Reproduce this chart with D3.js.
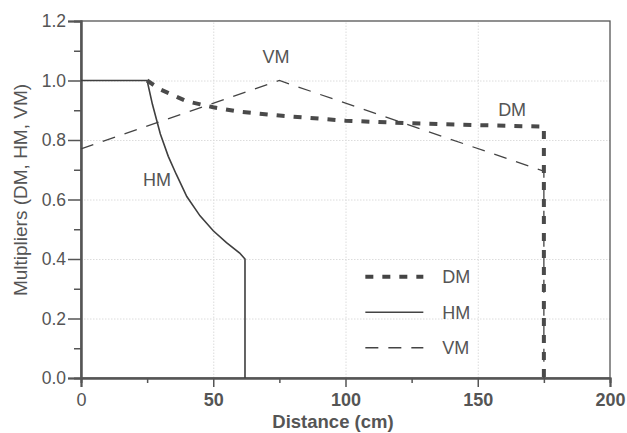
<!DOCTYPE html>
<html lang="en">
<head>
<meta charset="UTF-8">
<title>Multipliers</title>
<script src="https://d3js.org/d3.v7.min.js"></script>
<style>
    body { margin: 0; background: #fff; }
    text { font-family: "Liberation Sans", Arial, sans-serif; fill: #555; }
</style>
</head>
<body>
<div id="chart"></div>
<script>
    // data
    const hmDist = [0, 25, 27, 30, 33, 36, 40, 45, 50, 55, 60, 62, 62];
    const hmVal = [1.0, 1.0, 0.92, 0.82, 0.745, 0.685, 0.61, 0.545, 0.495, 0.455, 0.42, 0.40, 0.0];
    const dmDist = [25, 30, 35, 40, 50, 60, 75, 100, 125, 150, 175, 175];
    const dmVal = [1.0, 0.97, 0.95, 0.93, 0.91, 0.895, 0.882, 0.865, 0.856, 0.85, 0.845, 0.0];
    const vmDist = [0, 75, 175, 175];
    const vmVal = [0.77, 1.0, 0.695, 0.0];
    const xTicks = [0, 50, 100, 150, 200];
    const yTicks = [0.0, 0.2, 0.4, 0.6, 0.8, 1.0, 1.2];

    const W = 627, H = 433;
    const margin = { top: 21, right: 17, bottom: 55, left: 81 },
        width = W - margin.left - margin.right,
        height = H - margin.top - margin.bottom;

    const svg = d3.select("#chart").append("svg")
        .attr("width", W).attr("height", H)
        .append("g")
        .attr("transform", `translate(${margin.left},${margin.top})`);

    const x = d3.scaleLinear().domain([0, 200]).range([0, width]);
    const y = d3.scaleLinear().domain([0, 1.2]).range([height, 0]);

    // gridlines
    const gx = svg.append("g")
        .attr("transform", `translate(0,${height})`)
        .call(d3.axisBottom(x).tickValues([50, 100, 150]).tickSize(-height).tickFormat(""));
    const gy = svg.append("g")
        .call(d3.axisLeft(y).tickValues([0.2, 0.4, 0.6, 0.8, 1.0]).tickSize(-width).tickFormat(""));
    [gx, gy].forEach(g => {
        g.select(".domain").remove();
        g.selectAll("line").attr("stroke", "#dcdcdc").attr("stroke-dasharray", "1.5 1.5");
    });

    // frame
    svg.append("rect").attr("width", width).attr("height", height)
        .attr("fill", "none").attr("stroke", "#555").attr("stroke-width", 1.3);

    // axes
    const xAxis = svg.append("g")
        .attr("transform", `translate(0,${height})`)
        .call(d3.axisBottom(x).tickValues(xTicks).tickSize(9).tickPadding(6).tickFormat(d3.format("d")));
    const xMinor = svg.append("g")
        .attr("transform", `translate(0,${height})`)
        .call(d3.axisBottom(x).tickValues([25, 75, 125, 175]).tickSize(5).tickFormat(""));
    const yAxis = svg.append("g")
        .call(d3.axisLeft(y).tickValues(yTicks).tickSize(13).tickPadding(2).tickFormat(d3.format(".1f")));
    const yMinor = svg.append("g")
        .call(d3.axisLeft(y).tickValues([0.1, 0.3, 0.5, 0.7, 0.9, 1.1]).tickSize(7).tickFormat(""));

    [xAxis, xMinor, yAxis, yMinor].forEach(g => {
        g.select(".domain").attr("stroke", "#555").attr("stroke-width", 2);
        g.selectAll(".tick line").attr("stroke", "#555").attr("stroke-width", 1.5);
    });

    xAxis.selectAll("text").style("font-size", "18px").style("fill", "#555")
        .style("font-weight", d => d === 0 ? "normal" : "bold");
    yAxis.selectAll("text").style("font-size", "17.5px").style("fill", "#555");

    // axis titles
    svg.append("text")
        .attr("x", 333 - margin.left).attr("y", 428 - margin.top)
        .attr("text-anchor", "middle")
        .style("font-size", "18.5px").style("font-weight", "bold")
        .text("Distance (cm)");
    svg.append("text")
        .attr("transform", `translate(${27 - margin.left},${190 - margin.top}) rotate(-90)`)
        .attr("text-anchor", "middle")
        .style("font-size", "19px")
        .text("Multipliers (DM, HM, VM)");

    // lines
    const line = d3.line().x(d => x(d[0])).y(d => y(d[1])).curve(d3.curveMonotoneX);
    const straight = d3.line().x(d => x(d[0])).y(d => y(d[1]));
    const zip = (a, b) => a.map((v, i) => [v, b[i]]);

    svg.append("path").datum(zip(vmDist, vmVal)).attr("d", straight)
        .attr("fill", "none").attr("stroke", "#444").attr("stroke-width", 1.3)
        .attr("stroke-dasharray", "13 10");
    svg.append("path").datum(zip(hmDist, hmVal)).attr("d", straight)
        .attr("fill", "none").attr("stroke", "#3f3f3f").attr("stroke-width", 1.6);
    svg.append("path").datum(zip(dmDist, dmVal)).attr("d", straight)
        .attr("fill", "none").attr("stroke", "#4a4a4a").attr("stroke-width", 4)
        .attr("stroke-dasharray", "8 9");

    // curve labels
    const lab = (t, xv, yv) => svg.append("text")
        .attr("x", x(xv)).attr("y", y(yv))
        .attr("text-anchor", "middle")
        .style("font-size", "18px")
        .text(t);
    lab("VM", 73.7, 1.058);
    lab("HM", 28.7, 0.645);
    lab("DM", 163, 0.88);

    // legend
    const legend = [["DM", "8 9", 4], ["HM", null, 1.6], ["VM", "13 10", 1.3]];
    const lg = svg.append("g").attr("transform", `translate(${x(107.5)},${y(0.3) - 12})`);
    legend.forEach((d, i) => {
        const ly = i * 35.5;
        lg.append("line").attr("x1", 0).attr("x2", 58).attr("y1", ly).attr("y2", ly)
            .attr("stroke", "#444").attr("stroke-width", d[2])
            .attr("stroke-dasharray", d[1]);
        lg.append("text").attr("x", 77).attr("y", ly + 6.5)
            .style("font-size", "18px").text(d[0]);
    });
</script>
</body>
</html>
